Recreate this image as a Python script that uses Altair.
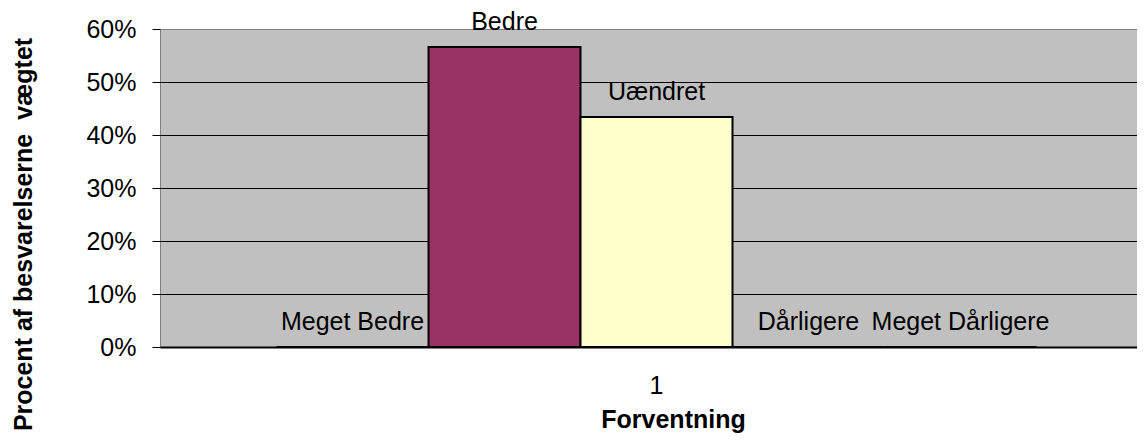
import altair as alt
import pandas as pd

series = ["Meget Bedre", "Bedre", "Uændret", "Dårligere", "Meget Dårligere"]
values = [0.0, 0.566, 0.434, 0.0, 0.0]
category = ["1", "1", "1", "1", "1"]
colors = ["#9999FF", "#993366", "#FFFFCC", "#CCFFFF", "#660066"]
y_ticks = [0.0, 0.1, 0.2, 0.3, 0.4, 0.5, 0.6]

df = pd.DataFrame({"Forventning": category, "Serie": series, "Andel": values})

FONT = "Liberation Sans"

x_enc = alt.X(
    "Forventning:N",
    scale=alt.Scale(range=[0, 993], paddingInner=0, paddingOuter=0.1533),
    axis=alt.Axis(
        title="Forventning",
        labelAngle=0,
        ticks=False,
        tickSize=0,
        labelPadding=46,
        labelBaseline="alphabetic",
        labelFontSize=25,
        labelFont=FONT,
        labelColor="black",
        domainColor="black",
        domainWidth=2,
        titleFont=FONT,
        titleFontSize=25,
        titleFontWeight="bold",
        titleColor="black",
        titleX=513,
        titleY=80,
        titleBaseline="alphabetic",
        titleAlign="center",
    ),
)
xoff = alt.XOffset("Serie:N", sort=series, scale=alt.Scale(paddingInner=0, paddingOuter=0))
y_enc = alt.Y(
    "Andel:Q",
    scale=alt.Scale(domain=[0, 0.6], nice=False),
    axis=alt.Axis(
        title="Procent af besvarelserne\u00a0 vægtet",
        values=y_ticks,
        format=".0%",
        domain=False,
        tickColor="black",
        tickSize=8,
        labelPadding=16,
        labelFontSize=25,
        labelFont=FONT,
        labelColor="black",
        gridColor={"condition": {"test": "datum.value >= 0.6", "value": "#808080"}, "value": "black"},
        gridWidth=1,
        titleFont=FONT,
        titleFontSize=25,
        titleFontWeight="bold",
        titleColor="black",
        titleX=-137,
        titleY=205,
        titleAngle=270,
        titleAlign="center",
        titleBaseline="middle",
    ),
)

bars = alt.Chart(df).mark_bar(stroke="black", strokeWidth=2).encode(
    x=x_enc,
    xOffset=xoff,
    y=y_enc,
    color=alt.Color("Serie:N", sort=series, scale=alt.Scale(domain=series, range=colors), legend=None),
)

labels = alt.Chart(df).mark_text(
    baseline="alphabetic", dy=-17, fontSize=25, font=FONT, color="black"
).encode(
    x=alt.X("Forventning:N"),
    xOffset=alt.XOffset("Serie:N", sort=series),
    y=alt.Y("Andel:Q"),
    text="Serie:N",
)

chart = (
    alt.layer(bars, labels)
    .properties(
        width=977,
        height=318,
        autosize=alt.AutoSizeParams(type="none"),
        padding={"left": 152, "top": 21, "right": 0, "bottom": 86},
        background="white",
    )
    .configure_view(fill="#C0C0C0", stroke="#808080", strokeWidth=1)
)

chart.save("out.html", embed_options={"renderer": "svg", "actions": False})
